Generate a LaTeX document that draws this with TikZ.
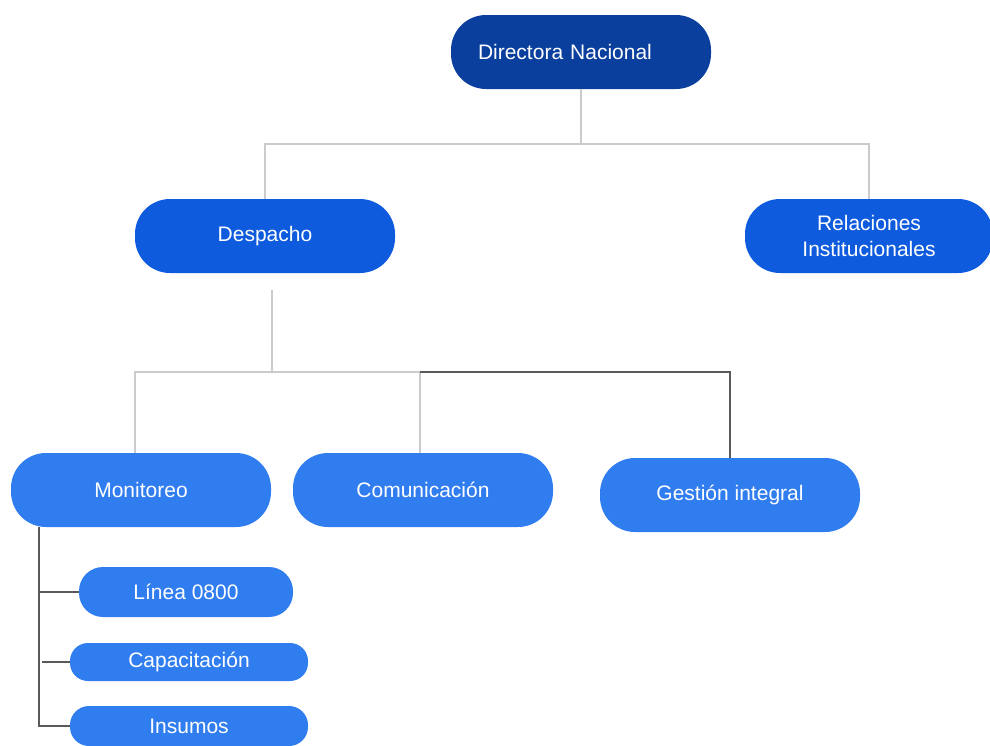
\documentclass[tikz,border=0pt]{standalone}
\usepackage{fontspec}
\setmainfont{Liberation Sans}
\definecolor{cDir}{HTML}{0B3F9E}
\definecolor{cMid}{HTML}{0E5BDD}
\definecolor{cLow}{HTML}{307DF0}
\definecolor{cLite}{HTML}{CBCBCB}
\definecolor{cDark}{HTML}{5A5A5A}
\begin{document}
\begin{tikzpicture}[x=1pt,y=-1pt,
  pill/.style={rectangle, rounded corners=#1, text=white, inner sep=0pt, align=center},
  lite/.style={draw=cLite, line width=1.4pt},
  dark/.style={draw=cDark, line width=1.5pt},
  font=\fontsize{21}{26.5}\selectfont]
\useasboundingbox (0,0) rectangle (990,745);
% nodes
\node[pill=35, fill=cDir, minimum width=260, minimum height=74, text width=206, align=left] (dir) at (581,52) {Directora Nacional};
\node[pill=35, fill=cMid, minimum width=260, minimum height=74] (desp) at (265,236) {Despacho};
\node[pill=35, fill=cMid, minimum width=248, minimum height=74] (rel) at (869,236) {Relaciones\\Institucionales};
\node[pill=35, fill=cLow, minimum width=260, minimum height=74] (mon) at (141,490) {Monitoreo};
\node[pill=35, fill=cLow, minimum width=260, minimum height=74] (com) at (423,490) {Comunicación};
\node[pill=35, fill=cLow, minimum width=260, minimum height=74] (gest) at (730,495) {Gestión integral};
\node[pill=24, fill=cLow, minimum width=214, minimum height=50] (lin) at (186,592) {Línea 0800};
\node[pill=18, fill=cLow, minimum width=238, minimum height=38] (cap) at (189,662) {Capacitación};
\node[pill=19, fill=cLow, minimum width=238, minimum height=40] (ins) at (189,726) {Insumos};
% coordinates
\coordinate (j1) at (581,144);
\coordinate (dsp) at (272,290);
\coordinate (j2) at (272,372);
\coordinate (m1) at (135,372);
\coordinate (c1) at (420,372);
\coordinate (g1) at (730,372);
\coordinate (ms) at (39,527);
% connectors
\draw[lite] (dir.south) -- (j1);
\draw[lite] (desp.north) -- (desp.north |- j1) -- (rel.north |- j1) -- (rel.north);
\draw[lite] (dsp) -- (j2);
\draw[lite] (m1 |- mon.north) -- (m1) -- (c1) -- (c1 |- com.north);
\draw[dark] (c1) -- (g1) -- (gest.north);
\draw[dark] (ms) |- (ins.west);
\draw[dark] (ms |- lin.west) -- (lin.west);
\draw[dark] ([xshift=3pt]ms |- cap.west) -- (cap.west);
\end{tikzpicture}
\end{document}
